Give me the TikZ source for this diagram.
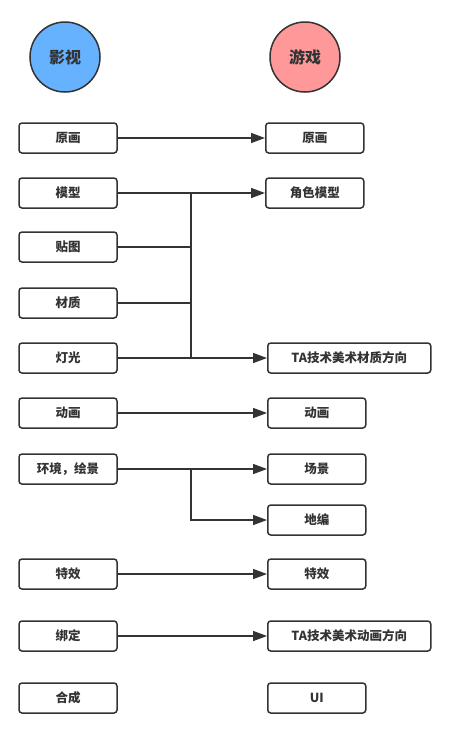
\documentclass[tikz,border=0pt]{standalone}
\usepackage{fontspec}
\setmainfont{Noto Sans CJK SC}
\usetikzlibrary{arrows.meta, positioning}
\definecolor{ftblue}{HTML}{66B2FF}
\definecolor{ftpink}{HTML}{FF9999}
\definecolor{ftline}{HTML}{333333}

\begin{document}
\begin{tikzpicture}[
  x=1pt, y=-1pt,
  every node/.style={font=\fontsize{12.5}{14}\selectfont\bfseries, text=ftline},
  item/.style={rectangle, draw=ftline, line width=1.5pt, rounded corners=3pt, minimum width=98pt, minimum height=30pt, inner sep=0pt, fill=white},
  wide/.style={item, minimum width=163pt},
  head/.style={circle, draw=ftline, line width=1.5pt, minimum size=70pt, inner sep=0pt, font=\fontsize{16}{18}\selectfont\bfseries},
  link/.style={draw=ftline, line width=1.5pt, -{Triangle[length=14pt, width=10pt]}},
  tie/.style={draw=ftline, line width=1.5pt},
]
\useasboundingbox (0,0) rectangle (449,729);

% Heads
\node[head, fill=ftblue] (film) at (65, 57) {影视};
\node[head, fill=ftpink] (game) at (305, 57) {游戏};

% Film column
\node[item] (fdraw) at (68, 138) {原画};
\node[item] (fmodel) at (68, 193) {模型};
\node[item] (ftex) at (68, 247) {贴图};
\node[item] (fmat) at (68, 303) {材质};
\node[item] (flight) at (68, 358) {灯光};
\node[item] (fanim) at (68, 413) {动画};
\node[item] (fenv) at (68, 469) {环境，绘景};
\node[item] (ffx) at (68, 574) {特效};
\node[item] (frig) at (68, 636) {绑定};
\node[item] (fcomp) at (68, 698) {合成};

% Game column
\node[item, anchor=west] (gdraw) at (265, 138) {原画};
\node[item, anchor=west] (gchar) at (265, 193) {角色模型};
\node[wide, anchor=west] (gtamat) at (267, 358) {TA技术美术材质方向};
\node[item, anchor=west] (ganim) at (267, 413) {动画};
\node[item, anchor=west] (gscene) at (267, 469) {场景};
\node[item, anchor=west] (gmap) at (267, 520) {地编};
\node[item, anchor=west] (gfx) at (267, 574) {特效};
\node[wide, anchor=west] (gtaanim) at (267, 636) {TA技术美术动画方向};
\node[item, anchor=west] (gui) at (267, 698) {UI};

% Links
\coordinate (bus) at (191, 0);
\draw[link] (fdraw) -- (gdraw);
\draw[link] (fmodel) -- (gchar);
\draw[tie] (fmodel.east -| bus) -- (flight.east -| bus);
\draw[tie] (ftex) -- (ftex.east -| bus);
\draw[tie] (fmat) -- (fmat.east -| bus);
\draw[link] (flight) -- (gtamat);
\draw[link] (fanim) -- (ganim);
\draw[link] (fenv) -- (gscene);
\draw[link] (fenv.east -| bus) |- (gmap);
\draw[link] (ffx) -- (gfx);
\draw[link] (frig) -- (gtaanim);

\end{tikzpicture}
\end{document}
